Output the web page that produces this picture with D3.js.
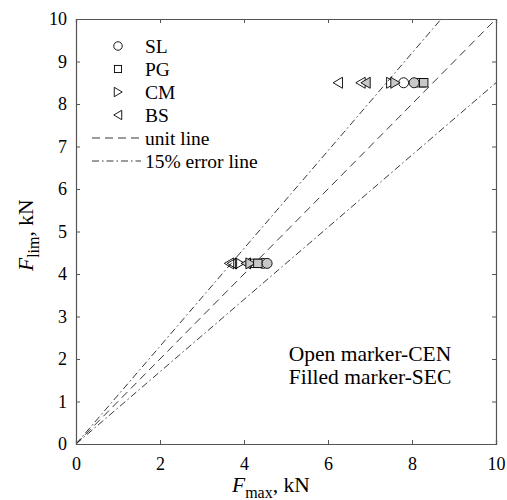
<!DOCTYPE html>
<html>
<head>
<meta charset="utf-8">
<script src="https://cdn.jsdelivr.net/npm/d3@7/dist/d3.min.js"></script>
<style>
  html, body { margin: 0; padding: 0; background: #fff; }
  svg text { font-family: "Liberation Serif", "Times New Roman", serif; fill: #000; }
</style>
</head>
<body>
<svg id="chart" width="507" height="500"></svg>
<script>
// Axis ticks
const xTicks = [0, 2, 4, 6, 8, 10];
const yTicks = [0, 1, 2, 3, 4, 5, 6, 7, 8, 9, 10];

// Predicted limit load levels (kN)
const loadLevels = [4.25, 8.5];

// Methods and their symbols
const methods = ["SL", "PG", "CM", "BS"];
const symbols = ["circle", "square", "triR", "triL"];

// F_max values (kN) per method: CEN (open markers) and SEC (filled markers)
// each entry: [F_max, F_lim]
const cenSL = [[4.45, 4.25], [7.80, 8.5]];
const cenPG = [[4.25, 4.25], [8.22, 8.5]];
const cenCM = [[3.90, 4.25], [7.50, 8.5]];
const cenBS = [[3.65, 4.25], [3.72, 4.25], [6.24, 8.5], [6.78, 8.5]];

const secSL = [[4.55, 4.25], [8.05, 8.5]];
const secPG = [[4.33, 4.25], [8.28, 8.5]];
const secCM = [[4.15, 4.25], [7.60, 8.5]];
const secBS = [[4.05, 4.25], [6.90, 8.5]];

// Reference lines: unit line and +/-15 % error lines
const unitSlope = 1.0;
const errorSlopes = [1.15, 0.85];

const svg = d3.select("#chart");
const margin = { left: 76, right: 11, top: 19, bottom: 56 };
const W = 507, H = 500;
const x = d3.scaleLinear().domain([0, 10]).range([margin.left, W - margin.right]);
const y = d3.scaleLinear().domain([0, 10]).range([H - margin.bottom, margin.top]);

const axisColor = "#555";
const unitDash = "8,5";
const errDash = "7,3,1.5,3";

// clip for reference lines
svg.append("clipPath").attr("id", "plotClip")
  .append("rect")
  .attr("x", x(0)).attr("y", y(10))
  .attr("width", x(10) - x(0)).attr("height", y(0) - y(10));

const lineG = svg.append("g").attr("clip-path", "url(#plotClip)");
lineG.append("line")
  .attr("x1", x(0)).attr("y1", y(0))
  .attr("x2", x(10)).attr("y2", y(10 * unitSlope))
  .attr("stroke", "#222").attr("stroke-width", 0.9)
  .attr("stroke-dasharray", unitDash);
errorSlopes.forEach(s => {
  lineG.append("line")
    .attr("x1", x(0)).attr("y1", y(0))
    .attr("x2", x(10)).attr("y2", y(10 * s))
    .attr("stroke", "#222").attr("stroke-width", 0.9)
    .attr("stroke-dasharray", errDash);
});

// Axes (ticks point inward, box frame)
const tickLen = 4;
const gx = svg.append("g").attr("transform", `translate(0,${y(0)})`)
  .call(d3.axisBottom(x).tickValues(xTicks).tickSize(-tickLen).tickPadding(13).tickFormat(d3.format("d")));
const gxTop = svg.append("g").attr("transform", `translate(0,${y(10)})`)
  .call(d3.axisTop(x).tickValues(xTicks).tickSize(-tickLen).tickFormat(""));
const gy = svg.append("g").attr("transform", `translate(${x(0)},0)`)
  .call(d3.axisLeft(y).tickValues(yTicks).tickSize(-tickLen).tickPadding(9).tickFormat(d3.format("d")));
const gyRight = svg.append("g").attr("transform", `translate(${x(10)},0)`)
  .call(d3.axisRight(y).tickValues(yTicks).tickSize(-tickLen).tickFormat(""));

[gx, gxTop, gy, gyRight].forEach(g => {
  g.select(".domain").attr("stroke", axisColor).attr("stroke-width", 1.2);
  g.selectAll(".tick line").attr("stroke", axisColor).attr("stroke-width", 1);
  g.selectAll(".tick text").style("font-size", "18px").style("font-family", "Liberation Serif, serif").attr("fill", "#000");
});

// Marker shape generator
function drawMarker(g, type, cx, cy, s, fill) {
  let el;
  if (type === "circle") {
    el = g.append("circle").attr("cx", cx).attr("cy", cy).attr("r", s * 0.5);
  } else if (type === "square") {
    const h = s * 0.42;
    el = g.append("rect").attr("x", cx - h).attr("y", cy - h).attr("width", 2 * h).attr("height", 2 * h);
  } else if (type === "triR") {
    const h = s * 0.55;
    el = g.append("path").attr("d", `M${cx - h * 0.8},${cy - h}L${cx + h * 0.9},${cy}L${cx - h * 0.8},${cy + h}Z`);
  } else {
    const h = s * 0.55;
    el = g.append("path").attr("d", `M${cx + h * 0.8},${cy - h}L${cx - h * 0.9},${cy}L${cx + h * 0.8},${cy + h}Z`);
  }
  el.attr("fill", fill).attr("stroke", "#000").attr("stroke-width", 0.9);
}

const markG = svg.append("g");
const cenSets = [cenSL, cenPG, cenCM, cenBS];
const secSets = [secSL, secPG, secCM, secBS];
const mSize = 10;
cenSets.forEach((pts, i) => {
  pts.forEach(p => drawMarker(markG, symbols[i], x(p[0]), y(p[1]), mSize, "none"));
});
[3, 2, 1, 0].forEach(i => {
  secSets[i].forEach(p => drawMarker(markG, symbols[i], x(p[0]), y(p[1]), mSize, "#c8c8c8"));
});

// Legend
const leg = svg.append("g");
const legX = 118, legTextX = 145, legY0 = 46, legDy = 23;
methods.forEach((m, i) => {
  const cy = legY0 + i * legDy;
  drawMarker(leg, symbols[i], legX, cy, 8.5, "none");
  leg.append("text").attr("x", legTextX).attr("y", cy).attr("dy", "0.35em")
    .style("font-size", "19.5px").text(m);
});
const lineLegend = [
  { label: "unit line", dash: unitDash },
  { label: "15% error line", dash: errDash }
];
lineLegend.forEach((d, j) => {
  const cy = legY0 + (methods.length + j) * legDy;
  leg.append("line").attr("x1", 92).attr("x2", 141).attr("y1", cy).attr("y2", cy)
    .attr("stroke", "#222").attr("stroke-width", 0.9).attr("stroke-dasharray", d.dash);
  leg.append("text").attr("x", legTextX).attr("y", cy).attr("dy", "0.35em")
    .style("font-size", "19.5px").text(d.label);
});

// Annotation
svg.append("text").attr("x", 370).attr("y", 361).attr("text-anchor", "middle")
  .style("font-size", "21.5px").text("Open marker-CEN");
svg.append("text").attr("x", 370).attr("y", 384).attr("text-anchor", "middle")
  .style("font-size", "21.5px").text("Filled marker-SEC");

// Axis titles
const xt = svg.append("text").attr("x", 232).attr("y", 492).style("font-size", "21.5px");
xt.append("tspan").style("font-style", "italic").text("F");
xt.append("tspan").attr("dy", 6).style("font-size", "16px").text("max");
xt.append("tspan").attr("dy", -6).text(", kN");

const yt = svg.append("text").attr("transform", `translate(33,${271}) rotate(-90)`).style("font-size", "21.5px");
yt.append("tspan").style("font-style", "italic").text("F");
yt.append("tspan").attr("dy", 6).style("font-size", "16px").text("lim");
yt.append("tspan").attr("dy", -6).text(", kN");
</script>
</body>
</html>
